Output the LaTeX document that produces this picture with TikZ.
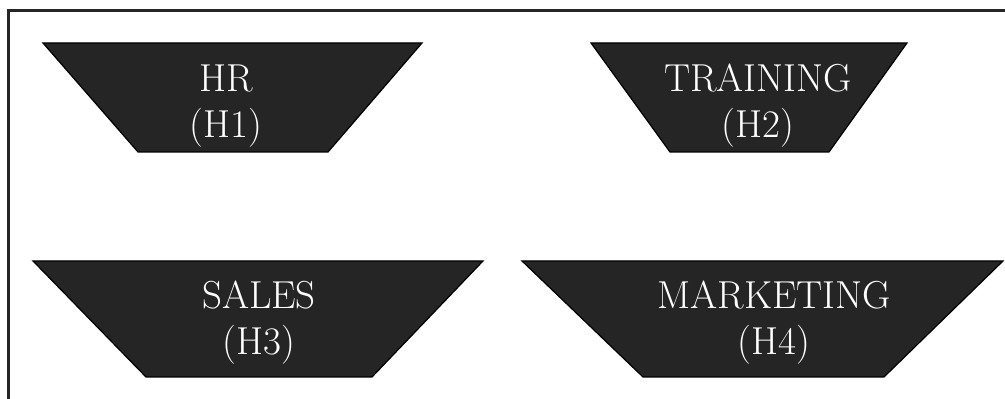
\documentclass[tikz,border=0pt]{standalone}
\usepackage{tikz}
\definecolor{boxfill}{RGB}{37,37,37}
\begin{document}
\begin{tikzpicture}[x=0.5pt,y=-0.5pt,
  trap/.style={fill=boxfill,draw=black,line width=0.6pt,line join=miter},
  lbl/.style={text=white,align=center,anchor=base,inner sep=0pt,font=\fontsize{19.5}{23}\selectfont},
  frame/.style={draw=black!85,line width=1.1pt}]
\useasboundingbox (0,0) rectangle (1005,399);
\draw[frame] (8.5,399) -- (8.5,10.5) -- (1005,10.5);
% HR
\path[trap] (43,43) -- (422,43) -- (328,152) -- (138,152) -- cycle;
\node[lbl] (hr) at (226,138) {HR\\(H1)};
% TRAINING
\path[trap] (591,43) -- (907,43) -- (829,152) -- (670,152) -- cycle;
\node[lbl] (training) at (758,138) {TRAINING\\(H2)};
% SALES
\path[trap] (33,261) -- (483,261) -- (372,377) -- (146,377) -- cycle;
\node[lbl] (sales) at (259,355) {SALES\\(H3)};
% MARKETING
\path[trap] (522,261) -- (1003,261) -- (884,377) -- (643,377) -- cycle;
\node[lbl] (marketing) at (774,355) {MARKETING\\(H4)};
\end{tikzpicture}
\end{document}
